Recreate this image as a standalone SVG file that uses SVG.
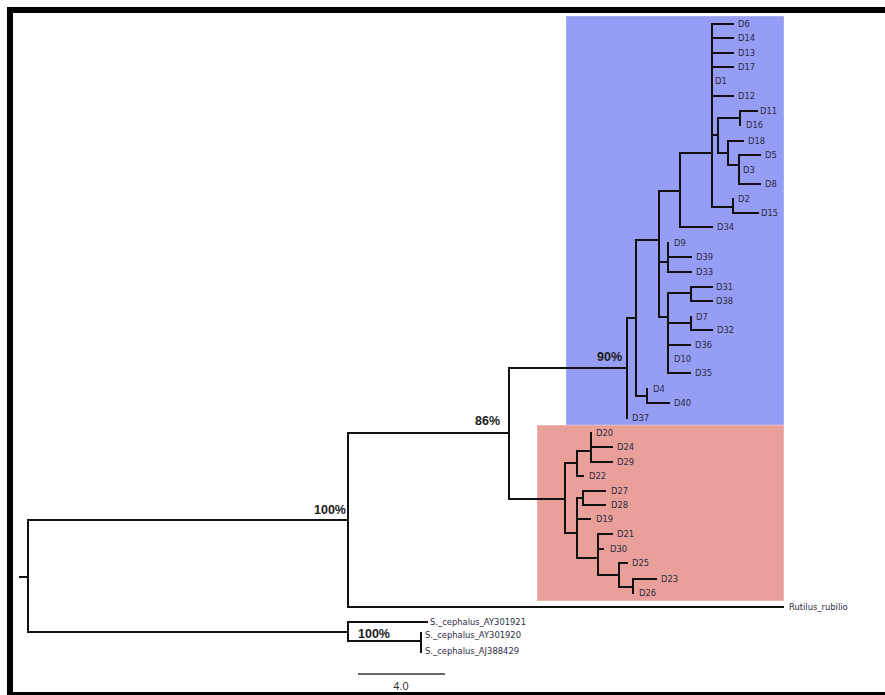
<svg xmlns="http://www.w3.org/2000/svg" width="885" height="695" viewBox="0 0 885 695">
  <style>
    .tip text { font-family: "DejaVu Sans", "Liberation Sans", sans-serif; font-size: 8.4px; fill: #2b2c3e; }
    .support text { font-family: "Liberation Sans", Arial, sans-serif; font-size: 12.5px; font-weight: bold; fill: #1a1a1a; }
    .branch { fill: none; stroke: #111; stroke-width: 2; stroke-linecap: square; }
    .scale { stroke: #333; stroke-width: 1.5; }
    .scale-label { font-family: "Liberation Sans", Arial, sans-serif; font-size: 11px; fill: #333; }
  </style>

  <rect x="0" y="0" width="885" height="695" fill="#ffffff"/>

  <!-- clade highlight boxes -->
  <rect id="clade-blue" x="566.5" y="16.5" width="217" height="408" fill="#969DF4" stroke="#a7adf3" stroke-width="1"/>
  <rect id="clade-red" x="537.5" y="425.5" width="246" height="175" fill="#EAA09A" stroke="#eeb2ad" stroke-width="1"/>

  <!-- branches -->
  <g id="connectors">
    <path class="branch" d="
      M20,577 H28 M28,520 V632 M28,520 H348 M28,632 H348
      M348,433 V607 M348,433 H509 M348,607 H783
      M509,368 V499 M509,368 H627 M509,499 H565
      M627,318 V418 M627,318 H636
      M636,240 V396 M636,240 H659 M636,396 H647
      M647,389 V403 M647,403 H669
      M659,191 V317 M659,191 H680 M659,262 H668 M659,317 H668
      M668,243 V272 M668,257 H691 M668,272 H691
      M668,293 V373 M668,293 H691 M668,323 H691 M668,345 H690 M668,373 H690
      M691,287 V301 M691,287 H712 M691,301 H712
      M691,317 V330 M691,330 H712
      M680,153 V227 M680,153 H712 M680,227 H712
      M712,24 V207 M712,24 H733 M712,38 H733 M712,53 H733 M712,67 H733 M712,96 H733
      M712,135 H718 M718,118 V153 M718,118 H740
      M740,111 V125 M740,111 H757
      M718,153 H728 M728,141 V165 M728,141 H743 M728,165 H739
      M739,155 V184 M739,155 H760 M739,184 H760
      M712,207 H733 M733,199 V213 M733,213 H758
      M565,463 V533 M565,463 H577
      M577,451 V476 M577,451 H591 M577,476 H583
      M591,433 V462 M591,447 H612 M591,462 H612
      M565,533 H577 M577,498 V558 M577,498 H583 M577,519 H590 M577,558 H598
      M583,491 V505 M583,491 H605 M583,505 H605
      M598,534 V575 M598,534 H612 M598,549 H603 M598,575 H619
      M619,563 V587 M619,563 H627 M619,587 H633
      M633,579 V593 M633,579 H656
      M348,622 V641 M348,622 H427 M348,641 H421
      M421,633 V652
    "/>
  </g>

  <!-- support values -->
  <g id="node-root-support" class="support"><text x="314" y="514">100%</text></g>
  <g id="node-ingroup-support" class="support"><text x="475" y="425">86%</text></g>
  <g id="node-blue-support" class="support"><text x="597" y="361">90%</text></g>
  <g id="node-outgroup-support" class="support"><text x="358" y="638">100%</text></g>

  <!-- blue clade tips -->
  <g id="tip-D6" class="tip"><text x="738" y="27">D6</text></g>
  <g id="tip-D14" class="tip"><text x="738" y="41">D14</text></g>
  <g id="tip-D13" class="tip"><text x="738" y="56">D13</text></g>
  <g id="tip-D17" class="tip"><text x="738" y="70">D17</text></g>
  <g id="tip-D1" class="tip"><text x="715" y="84">D1</text></g>
  <g id="tip-D12" class="tip"><text x="738" y="99">D12</text></g>
  <g id="tip-D11" class="tip"><text x="760" y="114">D11</text></g>
  <g id="tip-D16" class="tip"><text x="746" y="128">D16</text></g>
  <g id="tip-D18" class="tip"><text x="748" y="144">D18</text></g>
  <g id="tip-D5" class="tip"><text x="765" y="158">D5</text></g>
  <g id="tip-D3" class="tip"><text x="743" y="173">D3</text></g>
  <g id="tip-D8" class="tip"><text x="765" y="187">D8</text></g>
  <g id="tip-D2" class="tip"><text x="738" y="202">D2</text></g>
  <g id="tip-D15" class="tip"><text x="761" y="216">D15</text></g>
  <g id="tip-D34" class="tip"><text x="717" y="230">D34</text></g>
  <g id="tip-D9" class="tip"><text x="674" y="246">D9</text></g>
  <g id="tip-D39" class="tip"><text x="696" y="260">D39</text></g>
  <g id="tip-D33" class="tip"><text x="696" y="275">D33</text></g>
  <g id="tip-D31" class="tip"><text x="716" y="290">D31</text></g>
  <g id="tip-D38" class="tip"><text x="716" y="304">D38</text></g>
  <g id="tip-D7" class="tip"><text x="696" y="320">D7</text></g>
  <g id="tip-D32" class="tip"><text x="717" y="333">D32</text></g>
  <g id="tip-D36" class="tip"><text x="695" y="348">D36</text></g>
  <g id="tip-D10" class="tip"><text x="674" y="362">D10</text></g>
  <g id="tip-D35" class="tip"><text x="695" y="376">D35</text></g>
  <g id="tip-D4" class="tip"><text x="653" y="392">D4</text></g>
  <g id="tip-D40" class="tip"><text x="674" y="406">D40</text></g>
  <g id="tip-D37" class="tip"><text x="632" y="421">D37</text></g>

  <!-- red clade tips -->
  <g id="tip-D20" class="tip"><text x="596" y="436">D20</text></g>
  <g id="tip-D24" class="tip"><text x="617" y="450">D24</text></g>
  <g id="tip-D29" class="tip"><text x="617" y="465">D29</text></g>
  <g id="tip-D22" class="tip"><text x="589" y="479">D22</text></g>
  <g id="tip-D27" class="tip"><text x="611" y="494">D27</text></g>
  <g id="tip-D28" class="tip"><text x="611" y="508">D28</text></g>
  <g id="tip-D19" class="tip"><text x="596" y="522">D19</text></g>
  <g id="tip-D21" class="tip"><text x="617" y="537">D21</text></g>
  <g id="tip-D30" class="tip"><text x="610" y="552">D30</text></g>
  <g id="tip-D25" class="tip"><text x="632" y="566">D25</text></g>
  <g id="tip-D23" class="tip"><text x="661" y="582">D23</text></g>
  <g id="tip-D26" class="tip"><text x="639" y="596">D26</text></g>

  <!-- outgroup tips -->
  <g id="tip-Rutilus_rubilio" class="tip"><text x="789" y="610">Rutilus_rubilio</text></g>
  <g id="tip-AY301921" class="tip"><text x="430" y="625">S._cephalus_AY301921</text></g>
  <g id="tip-AY301920" class="tip"><text x="425" y="638">S._cephalus_AY301920</text></g>
  <g id="tip-AJ388429" class="tip"><text x="425" y="654">S._cephalus_AJ388429</text></g>

  <!-- scale bar -->
  <g id="scale-bar">
    <line class="scale" x1="358" y1="674" x2="445" y2="674"/>
    <text class="scale-label" x="401" y="690" text-anchor="middle">4.0</text>
  </g>

  <!-- frame -->
  <rect x="10" y="10" width="890" height="685" fill="none" stroke="#000" stroke-width="6"/>
</svg>
